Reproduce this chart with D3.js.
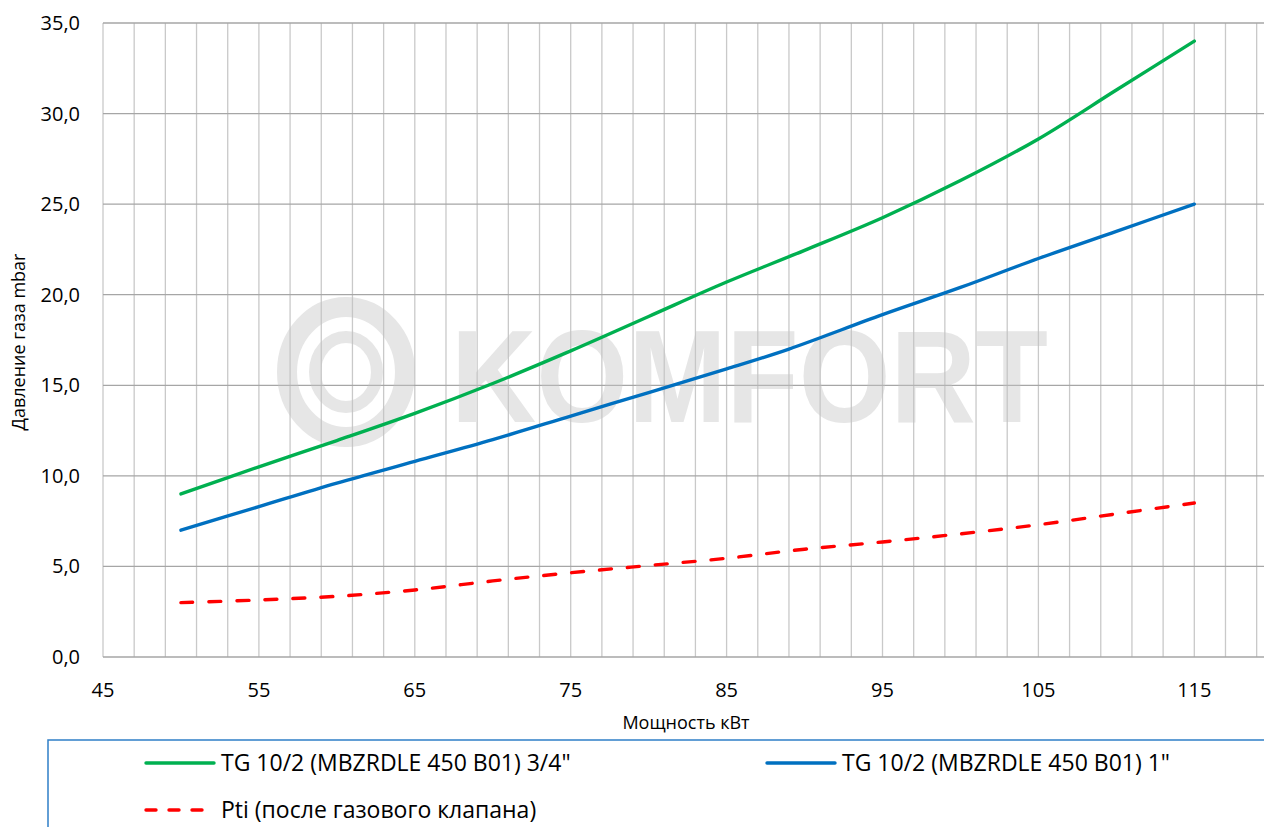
<!DOCTYPE html>
<html>
<head>
<meta charset="utf-8">
<script src="https://cdn.jsdelivr.net/npm/d3@7"></script>
<style>
  html, body { margin: 0; padding: 0; background: #fff; }
  svg { display: block; font-family: 'Open Sans', 'Noto Sans', sans-serif; }
</style>
</head>
<body>
<svg width="1264" height="827"></svg>
<script>
// data
const powerGreen = [50, 55, 60, 65, 70, 75, 80, 85, 90, 95, 100, 105, 110, 115];
const pressGreen = [9.0, 10.5, 11.95, 13.45, 15.1, 16.9, 18.8, 20.7, 22.45, 24.25, 26.3, 28.6, 31.3, 34.0];

const powerBlue = [50, 55, 60, 65, 70, 75, 80, 85, 89, 95, 100, 105, 110, 115];
const pressBlue = [7.0, 8.3, 9.6, 10.8, 12.0, 13.3, 14.6, 15.9, 17.0, 18.9, 20.4, 22.0, 23.5, 25.0];

const powerRed = [50, 55, 60, 65, 70, 75, 80, 85, 90, 95, 100, 105, 110, 115];
const pressRed = [3.0, 3.15, 3.35, 3.7, 4.2, 4.65, 5.05, 5.45, 5.95, 6.35, 6.8, 7.3, 7.9, 8.5];

const seriesNames = ['TG 10/2 (MBZRDLE 450 B01) 3/4"', 'TG 10/2 (MBZRDLE 450 B01) 1"', 'Pti (после газового клапана)'];
const xTicks = [45, 55, 65, 75, 85, 95, 105, 115];
const yTicks = [0, 5, 10, 15, 20, 25, 30, 35];

const svg = d3.select('svg');
const width = +svg.attr('width');
const height = +svg.attr('height');

const margin = { top: 23, left: 103, bottom: 657 };

const xScale = d3.scaleLinear().domain([45, 120]).range([margin.left, margin.left + 75 * 15.59]);
const yScale = d3.scaleLinear().domain([0, 35]).range([margin.bottom, margin.top]);

// vertical gridlines every 2 kW
const minorX = d3.range(45, 120.1, 2);
svg.append('g').selectAll('line')
  .data(minorX)
  .join('line')
  .attr('x1', d => xScale(d)).attr('x2', d => xScale(d))
  .attr('y1', yScale(35)).attr('y2', yScale(0))
  .attr('stroke', '#c9c9c9')
  .attr('stroke-width', 1.3);

// horizontal gridlines
svg.append('g').selectAll('line')
  .data(yTicks)
  .join('line')
  .attr('x1', xScale(45)).attr('x2', width)
  .attr('y1', d => yScale(d)).attr('y2', d => yScale(d))
  .attr('stroke', '#a6a6a6')
  .attr('stroke-width', 1.3);

// watermark
const wm = svg.append('g').attr('opacity', 0.42).attr('fill', 'none').attr('stroke', '#c4c4c4');
wm.append('ellipse').attr('cx', 346).attr('cy', 372).attr('rx', 59).attr('ry', 65).attr('stroke-width', 20);
wm.append('ellipse').attr('cx', 346).attr('cy', 372).attr('rx', 31).attr('ry', 35).attr('stroke-width', 12);
svg.append('text')
  .attr('x', 451).attr('y', 422)
  .attr('textLength', 597).attr('lengthAdjust', 'spacingAndGlyphs')
  .attr('font-family', 'Liberation Sans, Arial, sans-serif')
  .attr('font-weight', 'bold')
  .attr('font-size', 132)
  .attr('fill', '#c4c4c4')
  .attr('opacity', 0.42)
  .text('KOMFORT');

// y tick labels
svg.append('g').selectAll('text')
  .data(yTicks)
  .join('text')
  .attr('x', 80)
  .attr('y', d => yScale(d))
  .attr('dy', '0.35em')
  .attr('text-anchor', 'end')
  .attr('font-size', 20)
  .attr('fill', '#000')
  .text(d => d3.format('.1f')(d).replace('.', ','));

// x tick labels
svg.append('g').selectAll('text')
  .data(xTicks)
  .join('text')
  .attr('x', d => xScale(d))
  .attr('y', 697)
  .attr('text-anchor', 'middle')
  .attr('font-size', 20)
  .attr('fill', '#000')
  .text(d => d);

// axis titles
svg.append('text')
  .attr('x', 686).attr('y', 729)
  .attr('text-anchor', 'middle')
  .attr('font-size', 18)
  .text('Мощность кВт');

svg.append('text')
  .attr('transform', 'translate(25,342) rotate(-90)')
  .attr('text-anchor', 'middle')
  .attr('font-size', 18)
  .text('Давление газа mbar');

// series
const series = [
  { name: seriesNames[0], xs: powerGreen, ys: pressGreen, color: '#00b050', dash: null },
  { name: seriesNames[1], xs: powerBlue, ys: pressBlue, color: '#0070c0', dash: null },
  { name: seriesNames[2], xs: powerRed, ys: pressRed, color: '#ff0000', dash: '12,16' }
];

const line = d3.line()
  .x(d => xScale(d[0]))
  .y(d => yScale(d[1]))
  .curve(d3.curveCatmullRom);

svg.append('g').selectAll('path')
  .data(series)
  .join('path')
  .attr('d', s => line(s.xs.map((x, i) => [x, s.ys[i]])))
  .attr('fill', 'none')
  .attr('stroke', s => s.color)
  .attr('stroke-width', 3.4)
  .attr('stroke-linecap', 'round')
  .attr('stroke-dasharray', s => s.dash);

// legend
svg.append('rect')
  .attr('x', 48).attr('y', 740)
  .attr('width', 1300).attr('height', 200)
  .attr('fill', 'none')
  .attr('stroke', '#2f7fc8')
  .attr('stroke-width', 1.5);

const legendPos = [[146, 763], [767, 763], [146, 810]];
const legend = svg.append('g').selectAll('g')
  .data(series)
  .join('g')
  .attr('transform', (d, i) => `translate(${legendPos[i][0]},${legendPos[i][1]})`);

legend.append('line')
  .attr('x1', 0).attr('x2', 68)
  .attr('stroke', d => d.color)
  .attr('stroke-width', 3.4)
  .attr('stroke-linecap', 'round')
  .attr('stroke-dasharray', d => d.dash ? '10,13' : null);

legend.append('text')
  .attr('x', 75)
  .attr('dy', '0.36em')
  .attr('font-size', 23)
  .text(d => d.name);
</script>
</body>
</html>
